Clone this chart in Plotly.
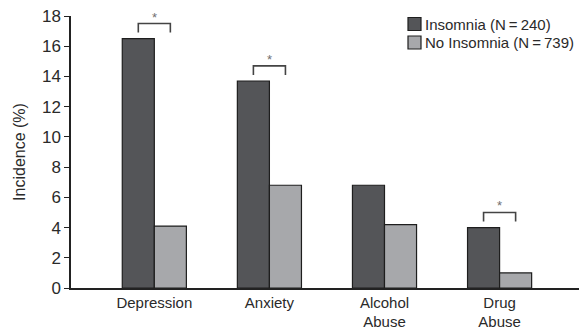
import plotly.graph_objects as go

# Incidence of psychiatric conditions by insomnia status
categories = ["Depression", "Anxiety", "Alcohol<br>Abuse", "Drug<br>Abuse"]
insomnia = [16.5, 13.7, 6.8, 4.0]
no_insomnia = [4.1, 6.8, 4.2, 1.0]
significant = [True, True, False, True]
series_names = ["Insomnia (N\u2009=\u2009240)", "No Insomnia (N\u2009=\u2009739)"]
y_ticks = [0, 2, 4, 6, 8, 10, 12, 14, 16, 18]

FONT = "Liberation Sans, Arial, Helvetica, sans-serif"
TEXT = "#2a2a2a"
EDGE = "#1e1e1e"
COLORS = ["#545558", "#a7a8ab"]
BARGAP = 0.443

fig = go.Figure()
for name, vals, col in zip(series_names, [insomnia, no_insomnia], COLORS):
    fig.add_trace(go.Bar(x=categories, y=vals, name=name,
                         marker=dict(color=col, line=dict(color=EDGE, width=1.2))))

# Significance brackets spanning the two bars of a group
half = (1 - BARGAP) / 4
for i, (a, b, sig) in enumerate(zip(insomnia, no_insomnia, significant)):
    if not sig:
        continue
    top = max(a, b)
    y_line = top + 1.0
    y_leg = top + 0.4
    fig.add_shape(type="path",
                  path=f"M {i - half} {y_leg} L {i - half} {y_line} L {i + half} {y_line} L {i + half} {y_leg}",
                  line=dict(color="#444444", width=1.6), xref="x", yref="y")
    fig.add_annotation(x=i, y=y_line, text="*", showarrow=False, yanchor="bottom",
                       yshift=-3, font=dict(family=FONT, size=13, color="#707070"))

# Compact legend: swatch immediately followed by its label
legend_x = 408
legend_rows = [24, 42.5]
for name, col, yc in zip(series_names, COLORS, legend_rows):
    fig.add_shape(type="rect", xref="paper", yref="paper",
                  x0=(legend_x - 71) / 508, x1=(legend_x + 13 - 71) / 508,
                  y0=(288 - yc - 6.5) / 272, y1=(288 - yc + 6.5) / 272,
                  fillcolor=col, line=dict(color=EDGE, width=1.2))
    fig.add_annotation(xref="paper", yref="paper", x=(legend_x + 15 - 71) / 508,
                       y=(288 - yc) / 272, text=name, showarrow=False,
                       xanchor="left", yanchor="middle",
                       font=dict(family=FONT, size=15, color=TEXT))

fig.update_layout(
    width=579, height=329,
    margin=dict(l=71, r=0, t=16, b=41, autoexpand=False),
    paper_bgcolor="white", plot_bgcolor="white",
    barmode="group", bargap=BARGAP, bargroupgap=0,
    font=dict(family=FONT, size=16, color=TEXT),
    showlegend=False,
    xaxis=dict(range=[-0.724, 3.69], showline=True, linecolor="#222222", linewidth=1.5,
               ticks="", showgrid=False, zeroline=False,
               tickfont=dict(size=15, color=TEXT)),
    yaxis=dict(range=[0, 18], tickvals=y_ticks, showline=True, linecolor="#222222",
               linewidth=1.5, ticks="outside", ticklen=5, tickwidth=1.3, tickcolor="#222222",
               showgrid=False, zeroline=False, tickfont=dict(size=17, color=TEXT),
               title=dict(text="Incidence (%)", font=dict(size=16, color=TEXT), standoff=12)),
)

fig.write_html("out.html")
